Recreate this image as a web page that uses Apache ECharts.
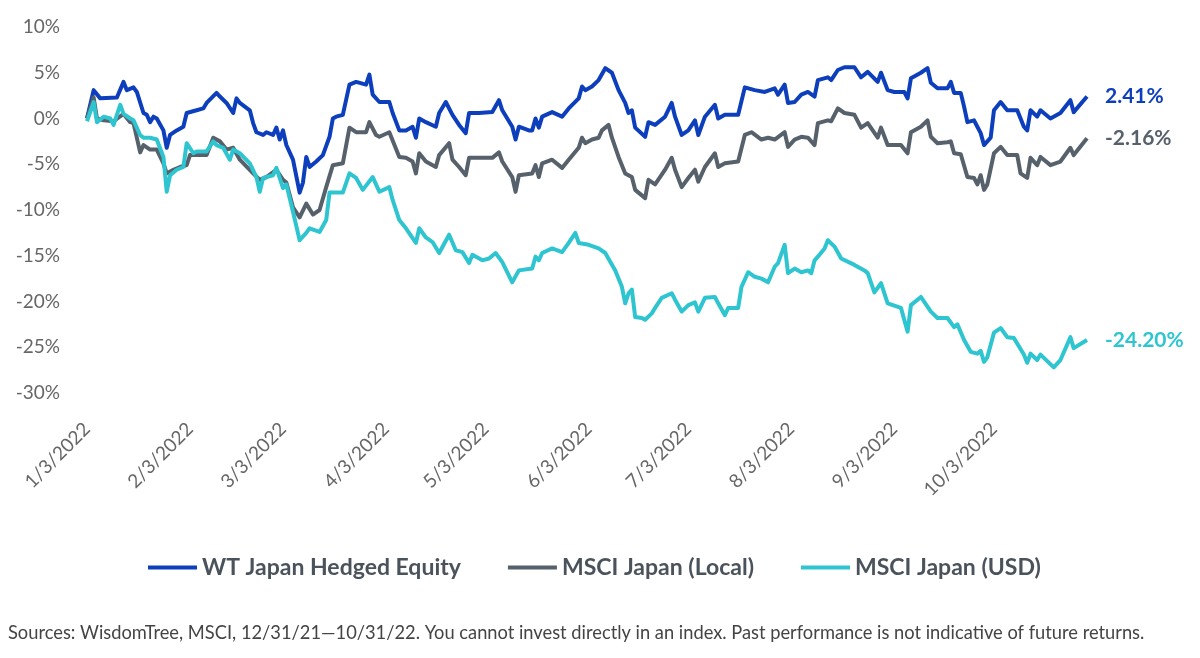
<!DOCTYPE html>
<html>
<head>
<meta charset="utf-8">
<script src="https://cdn.jsdelivr.net/npm/echarts@6/dist/echarts.min.js"></script>
<style>
html,body{margin:0;padding:0;background:#fff;}
#chart{width:1200px;height:658px;}
</style>
</head>
<body>
<div id="chart"></div>
<script>
// ---- data ----
const seriesNames = ['WT Japan Hedged Equity', 'MSCI Japan (Local)', 'MSCI Japan (USD)'];
const tickLabels = ['1/3/2022','2/3/2022','3/3/2022','4/3/2022','5/3/2022','6/3/2022','7/3/2022','8/3/2022','9/3/2022','10/3/2022'];
const yTicks = [10, 5, 0, -5, -10, -15, -20, -25, -30];
const footnote = 'Sources: WisdomTree, MSCI, 12/31/21\u201410/31/22. You cannot invest directly in an index. Past performance is not indicative of future returns.';

const wtHedged = [
['1/3/2022',0],['1/5/2022',3.1],['1/7/2022',2.2],['1/12/2022',2.3],['1/14/2022',4.0],['1/15/2022',3.1],['1/17/2022',3.4],['1/18/2022',2.9],
['1/20/2022',0.6],['1/21/2022',0.4],['1/22/2022',-0.4],['1/23/2022',0.2],['1/24/2022',0.0],['1/26/2022',-1.3],['1/27/2022',-3.2],['1/28/2022',-1.8],
['1/30/2022',-1.3],['2/1/2022',-0.9],['2/2/2022',0.6],['2/5/2022',0.9],['2/7/2022',1.1],['2/8/2022',1.7],['2/11/2022',2.8],['2/12/2022',2.4],
['2/14/2022',1.7],['2/16/2022',0.6],['2/17/2022',2.2],['2/18/2022',1.7],['2/21/2022',0.9],['2/22/2022',-0.5],['2/23/2022',-1.5],['2/25/2022',-1.8],
['2/26/2022',-1.5],['2/28/2022',-1.8],['3/1/2022',-1.0],['3/2/2022',-2.3],['3/3/2022',-1.3],['3/4/2022',-2.9],['3/6/2022',-4.5],['3/8/2022',-8.1],
['3/9/2022',-7.0],['3/10/2022',-4.2],['3/11/2022',-5.3],['3/13/2022',-4.7],['3/15/2022',-4.0],['3/17/2022',-2.0],['3/18/2022',0.0],['3/19/2022',0.2],
['3/21/2022',0.4],['3/23/2022',3.7],['3/25/2022',4.0],['3/28/2022',3.7],['3/29/2022',4.8],['3/30/2022',2.6],['4/1/2022',1.8],['4/4/2022',1.8],
['4/5/2022',0.6],['4/7/2022',-1.3],['4/9/2022',-1.3],['4/11/2022',-0.9],['4/12/2022',-2.1],['4/13/2022',0.0],['4/15/2022',-0.4],['4/18/2022',-0.9],
['4/19/2022',0.6],['4/21/2022',1.8],['4/23/2022',0.4],['4/25/2022',-0.7],['4/27/2022',-1.6],['4/28/2022',0.6],['5/1/2022',0.6],['5/5/2022',0.7],
['5/7/2022',2.0],['5/8/2022',0.9],['5/11/2022',-0.9],['5/12/2022',-2.3],['5/13/2022',-0.9],['5/16/2022',-1.3],['5/17/2022',-1.3],['5/18/2022',0.0],
['5/19/2022',-1.0],['5/20/2022',0.2],['5/23/2022',0.7],['5/26/2022',0.2],['5/28/2022',1.1],['5/31/2022',2.2],['6/1/2022',3.5],['6/2/2022',3.1],
['6/4/2022',3.5],['6/6/2022',4.2],['6/8/2022',5.5],['6/10/2022',5.0],['6/12/2022',3.1],['6/14/2022',1.7],['6/15/2022',0.6],['6/16/2022',0.9],
['6/17/2022',-1.0],['6/20/2022',-2.0],['6/21/2022',-0.4],['6/23/2022',-0.7],['6/26/2022',0.2],['6/28/2022',1.7],['6/29/2022',0.2],['7/1/2022',-1.8],
['7/3/2022',-1.3],['7/5/2022',-0.2],['7/6/2022',-1.8],['7/8/2022',0.2],['7/11/2022',1.5],['7/12/2022',0.0],['7/14/2022',0.4],['7/18/2022',0.4],
['7/20/2022',3.4],['7/23/2022',3.1],['7/26/2022',2.9],['7/29/2022',3.3],['7/30/2022',2.6],['8/1/2022',3.7],['8/2/2022',1.7],['8/4/2022',1.8],
['8/6/2022',2.6],['8/8/2022',2.9],['8/10/2022',2.4],['8/11/2022',4.2],['8/14/2022',4.5],['8/15/2022',4.2],['8/17/2022',5.3],['8/19/2022',5.6],
['8/22/2022',5.6],['8/24/2022',4.5],['8/26/2022',5.1],['8/29/2022',4.0],['8/30/2022',5.0],['9/1/2022',3.1],['9/3/2022',2.9],['9/6/2022',2.9],
['9/7/2022',2.2],['9/8/2022',4.4],['9/11/2022',5.0],['9/13/2022',5.5],['9/14/2022',3.9],['9/16/2022',3.3],['9/19/2022',3.3],['9/20/2022',4.0],
['9/21/2022',2.8],['9/23/2022',2.8],['9/24/2022',1.3],['9/25/2022',-0.4],['9/27/2022',-0.2],['9/28/2022',-0.9],['9/29/2022',-1.6],['9/30/2022',-2.9],
['10/2/2022',-2.1],['10/3/2022',0.9],['10/5/2022',1.8],['10/7/2022',0.9],['10/10/2022',0.9],['10/12/2022',-0.9],['10/13/2022',-1.3],['10/14/2022',0.9],
['10/16/2022',0.2],['10/17/2022',0.9],['10/20/2022',0.0],['10/23/2022',0.6],['10/26/2022',2.0],['10/27/2022',0.7],['10/31/2022',2.41]
];

const msciLocal = [
['1/3/2022',0],['1/5/2022',2.3],['1/6/2022',0.0],['1/8/2022',-0.2],['1/11/2022',-0.3],['1/14/2022',0.5],['1/16/2022',-0.4],['1/17/2022',-0.5],
['1/19/2022',-3.7],['1/20/2022',-2.9],['1/22/2022',-3.4],['1/24/2022',-3.4],['1/26/2022',-4.9],['1/27/2022',-6.0],['1/29/2022',-5.6],['1/31/2022',-5.3],
['2/2/2022',-5.1],['2/3/2022',-4.0],['2/5/2022',-4.0],['2/8/2022',-4.0],['2/10/2022',-2.1],['2/12/2022',-2.5],['2/14/2022',-3.4],['2/16/2022',-3.2],
['2/18/2022',-4.5],['2/22/2022',-6.0],['2/24/2022',-6.7],['2/26/2022',-6.4],['3/1/2022',-5.6],['3/3/2022',-6.7],['3/4/2022',-7.0],['3/6/2022',-9.7],
['3/8/2022',-10.8],['3/10/2022',-9.3],['3/12/2022',-10.5],['3/14/2022',-10.0],['3/16/2022',-7.5],['3/18/2022',-5.1],['3/21/2022',-4.9],['3/23/2022',-1.0],
['3/25/2022',-1.5],['3/28/2022',-1.5],['3/29/2022',-0.4],['3/31/2022',-1.8],['4/1/2022',-2.0],['4/4/2022',-1.5],['4/7/2022',-4.2],['4/9/2022',-4.3],
['4/11/2022',-4.7],['4/12/2022',-6.0],['4/13/2022',-3.8],['4/15/2022',-4.7],['4/18/2022',-5.3],['4/19/2022',-4.0],['4/22/2022',-2.7],['4/23/2022',-4.5],
['4/25/2022',-5.3],['4/27/2022',-6.2],['4/28/2022',-4.3],['5/5/2022',-4.3],['5/7/2022',-3.7],['5/8/2022',-4.7],['5/11/2022',-6.4],['5/12/2022',-8.0],
['5/13/2022',-6.2],['5/17/2022',-6.0],['5/18/2022',-5.1],['5/19/2022',-6.4],['5/20/2022',-4.9],['5/23/2022',-4.5],['5/26/2022',-5.4],['5/28/2022',-4.5],
['5/31/2022',-3.2],['6/1/2022',-2.1],['6/2/2022',-2.7],['6/4/2022',-2.3],['6/6/2022',-2.1],['6/7/2022',-1.3],['6/9/2022',-0.7],['6/10/2022',-2.1],
['6/12/2022',-4.2],['6/14/2022',-6.0],['6/16/2022',-6.4],['6/17/2022',-7.8],['6/18/2022',-8.1],['6/20/2022',-8.7],['6/21/2022',-6.7],['6/23/2022',-7.2],
['6/26/2022',-5.6],['6/28/2022',-4.3],['6/29/2022',-5.6],['7/1/2022',-7.5],['7/3/2022',-6.5],['7/5/2022',-5.6],['7/6/2022',-6.9],['7/8/2022',-5.3],
['7/11/2022',-3.8],['7/12/2022',-5.3],['7/14/2022',-4.9],['7/18/2022',-4.7],['7/20/2022',-1.8],['7/22/2022',-1.5],['7/25/2022',-2.3],['7/27/2022',-2.1],
['7/29/2022',-2.3],['8/1/2022',-1.5],['8/2/2022',-3.1],['8/4/2022',-2.3],['8/6/2022',-2.0],['8/8/2022',-2.1],['8/10/2022',-2.9],['8/11/2022',-0.5],
['8/14/2022',-0.2],['8/15/2022',-0.3],['8/17/2022',1.1],['8/19/2022',0.6],['8/22/2022',0.4],['8/24/2022',-1.0],['8/26/2022',-0.5],['8/29/2022',-2.1],
['8/30/2022',-1.0],['9/1/2022',-2.9],['9/5/2022',-2.9],['9/7/2022',-3.8],['9/8/2022',-1.5],['9/11/2022',-0.9],['9/13/2022',-0.2],['9/14/2022',-2.0],
['9/16/2022',-2.7],['9/19/2022',-2.6],['9/20/2022',-2.5],['9/21/2022',-3.8],['9/23/2022',-3.9],['9/25/2022',-6.4],['9/27/2022',-6.5],['9/28/2022',-7.2],
['9/29/2022',-6.2],['9/30/2022',-7.8],['10/1/2022',-7.2],['10/3/2022',-3.8],['10/5/2022',-3.1],['10/7/2022',-4.0],['10/10/2022',-4.0],['10/11/2022',-6.0],
['10/13/2022',-6.5],['10/14/2022',-4.3],['10/16/2022',-5.1],['10/17/2022',-4.2],['10/20/2022',-5.1],['10/23/2022',-4.7],['10/26/2022',-3.2],['10/27/2022',-4.0],
['10/31/2022',-2.16]
];

const msciUsd = [
['1/3/2022',-0.3],['1/5/2022',1.8],['1/6/2022',-0.4],['1/8/2022',0.2],['1/10/2022',0.0],['1/11/2022',-0.7],['1/13/2022',1.5],['1/14/2022',0.5],
['1/16/2022',0.0],['1/17/2022',-0.2],['1/19/2022',-1.8],['1/20/2022',-2.1],['1/22/2022',-2.1],['1/24/2022',-2.3],['1/26/2022',-4.2],['1/27/2022',-8.0],
['1/28/2022',-6.2],['1/30/2022',-5.6],['2/1/2022',-5.3],['2/2/2022',-2.7],['2/4/2022',-3.8],['2/5/2022',-3.6],['2/8/2022',-3.6],['2/10/2022',-2.5],
['2/11/2022',-2.9],['2/13/2022',-3.2],['2/15/2022',-4.5],['2/16/2022',-3.4],['2/18/2022',-3.8],['2/21/2022',-4.9],['2/23/2022',-6.4],['2/24/2022',-8.0],
['2/25/2022',-6.5],['2/28/2022',-6.2],['3/1/2022',-5.4],['3/3/2022',-7.6],['3/4/2022',-7.2],['3/6/2022',-10.2],['3/8/2022',-13.3],['3/10/2022',-12.5],
['3/11/2022',-12.0],['3/14/2022',-12.4],['3/16/2022',-11.1],['3/17/2022',-8.1],['3/21/2022',-8.1],['3/23/2022',-6.0],['3/25/2022',-6.5],['3/27/2022',-7.8],
['3/30/2022',-6.4],['4/1/2022',-8.0],['4/4/2022',-7.5],['4/5/2022',-8.9],['4/7/2022',-11.1],['4/9/2022',-12.0],['4/12/2022',-13.6],['4/13/2022',-12.0],
['4/15/2022',-13.0],['4/17/2022',-13.5],['4/19/2022',-14.7],['4/22/2022',-12.7],['4/24/2022',-14.4],['4/26/2022',-14.6],['4/28/2022',-15.8],['4/29/2022',-14.9],
['5/2/2022',-15.5],['5/4/2022',-15.3],['5/6/2022',-14.7],['5/8/2022',-15.7],['5/11/2022',-17.9],['5/13/2022',-16.6],['5/17/2022',-16.4],['5/18/2022',-15.1],
['5/19/2022',-15.5],['5/20/2022',-14.7],['5/23/2022',-14.2],['5/26/2022',-14.6],['5/28/2022',-13.6],['5/30/2022',-12.5],['5/31/2022',-13.6],['6/3/2022',-13.8],
['6/6/2022',-14.2],['6/8/2022',-14.7],['6/11/2022',-16.6],['6/13/2022',-18.4],['6/14/2022',-20.2],['6/15/2022',-19.1],['6/16/2022',-18.7],['6/17/2022',-21.7],
['6/19/2022',-21.8],['6/20/2022',-22.0],['6/22/2022',-21.3],['6/23/2022',-20.7],['6/25/2022',-19.6],['6/28/2022',-19.1],['6/29/2022',-19.8],['7/1/2022',-21.1],
['7/3/2022',-20.4],['7/5/2022',-20.1],['7/6/2022',-21.1],['7/8/2022',-19.6],['7/11/2022',-19.5],['7/12/2022',-20.2],['7/14/2022',-21.5],['7/15/2022',-20.7],
['7/18/2022',-20.7],['7/19/2022',-18.4],['7/21/2022',-16.8],['7/23/2022',-17.3],['7/25/2022',-17.5],['7/27/2022',-17.9],['7/29/2022',-16.2],['7/30/2022',-15.8],
['8/1/2022',-13.8],['8/2/2022',-16.9],['8/4/2022',-16.4],['8/6/2022',-16.8],['8/8/2022',-16.6],['8/9/2022',-16.9],['8/10/2022',-15.5],['8/11/2022',-15.1],
['8/13/2022',-14.2],['8/14/2022',-13.3],['8/16/2022',-14.0],['8/18/2022',-15.3],['8/22/2022',-16.0],['8/25/2022',-16.6],['8/26/2022',-16.9],['8/28/2022',-19.0],
['8/30/2022',-18.0],['9/1/2022',-20.2],['9/5/2022',-20.7],['9/7/2022',-23.3],['9/8/2022',-20.4],['9/11/2022',-19.5],['9/14/2022',-21.1],['9/16/2022',-21.8],
['9/19/2022',-21.8],['9/21/2022',-22.8],['9/22/2022',-22.5],['9/24/2022',-24.2],['9/26/2022',-25.5],['9/28/2022',-25.7],['9/29/2022',-25.4],['9/30/2022',-26.6],
['10/1/2022',-26.1],['10/3/2022',-23.4],['10/5/2022',-22.9],['10/7/2022',-23.9],['10/9/2022',-24.0],['10/12/2022',-25.8],['10/13/2022',-26.7],['10/14/2022',-25.7],
['10/16/2022',-26.4],['10/17/2022',-25.8],['10/21/2022',-27.2],['10/23/2022',-26.4],['10/26/2022',-23.9],['10/27/2022',-25.1],['10/31/2022',-24.2]
];

const colors = ['#0d3fbd', '#56616c', '#2ec5d0'];

// daily date categories from the first to the last date of the period
const categories = [];
(function () {
  const start = Date.UTC(2022, 0, 3), end = Date.UTC(2022, 9, 31);
  for (let t = start; t <= end; t += 86400000) {
    const d = new Date(t);
    categories.push((d.getUTCMonth() + 1) + '/' + d.getUTCDate() + '/' + d.getUTCFullYear());
  }
})();

const chart = echarts.init(document.getElementById('chart'), null, {renderer: 'canvas'});
const fontFamily = 'Lato, "Noto Sans", sans-serif';

function makeSeries(name, data, color) {
  return {
    name: name,
    type: 'line',
    data: data,
    symbol: 'none',
    showSymbol: false,
    lineStyle: {width: 4, color: color, join: 'round'},
    itemStyle: {color: color},
    endLabel: {
      show: true,
      distance: 18,
      color: color,
      fontFamily: fontFamily,
      fontWeight: 'bold',
      fontSize: 21,
      formatter: function (p) { return p.value[1].toFixed(2) + '%'; }
    },
    animation: false
  };
}

chart.setOption({
  backgroundColor: '#ffffff',
  animation: false,
  color: colors,
  grid: {left: 87, right: 113, top: 27, bottom: 265, containLabel: false},
  xAxis: {
    type: 'category',
    data: categories,
    boundaryGap: false,
    axisLine: {show: false},
    axisTick: {show: false},
    splitLine: {show: false},
    axisLabel: {
      rotate: 45,
      margin: 33,
      color: '#666666',
      fontFamily: fontFamily,
      fontSize: 19,
      interval: function (index, value) { return tickLabels.indexOf(value) >= 0; }
    }
  },
  yAxis: {
    type: 'value',
    min: yTicks[yTicks.length - 1],
    max: yTicks[0],
    interval: 5,
    axisLine: {show: false},
    axisTick: {show: false},
    splitLine: {show: false},
    axisLabel: {
      margin: 27,
      color: '#666666',
      fontFamily: fontFamily,
      fontSize: 19,
      formatter: '{value}%'
    }
  },
  legend: {
    data: seriesNames,
    left: 143,
    top: 551,
    icon: 'rect',
    itemWidth: 49,
    itemHeight: 4,
    itemGap: 47,
    textStyle: {color: '#4a525b', fontFamily: fontFamily, fontWeight: 'bold', fontSize: 23}
  },
  graphic: [{
    type: 'text',
    left: 8,
    top: 624,
    style: {text: footnote, fill: '#444444', font: '18.3px ' + fontFamily}
  }],
  series: [
    makeSeries(seriesNames[0], wtHedged, colors[0]),
    makeSeries(seriesNames[1], msciLocal, colors[1]),
    makeSeries(seriesNames[2], msciUsd, colors[2])
  ]
});
</script>
</body>
</html>
